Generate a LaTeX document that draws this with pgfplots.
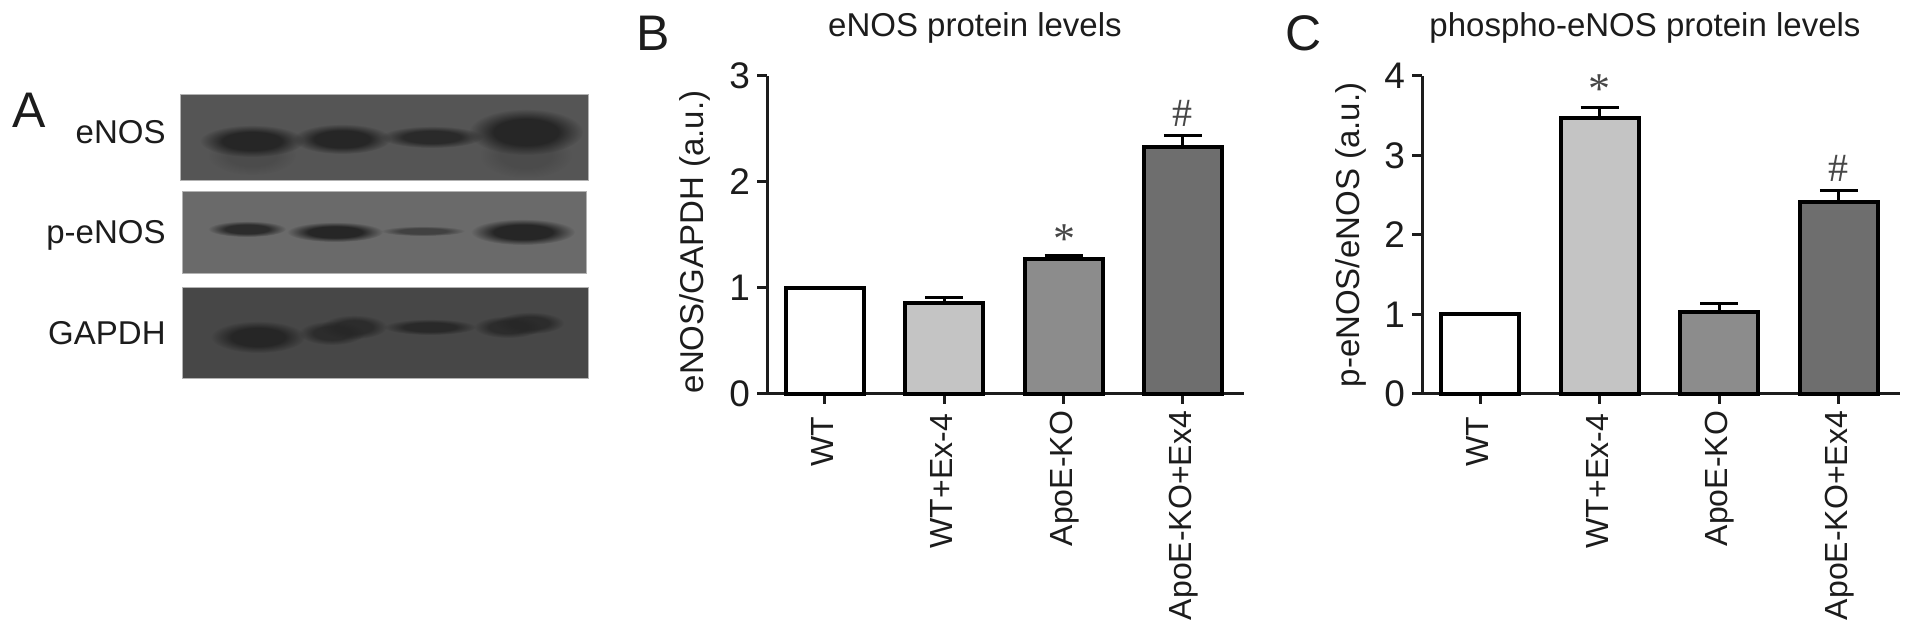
\documentclass[border=0pt]{standalone}
\usepackage{pgfplots}
\pgfplotsset{compat=1.18}
\usepackage{fontspec}
\usetikzlibrary{fadings}
\setmainfont{Liberation Sans}
\newfontfamily\serifn{Liberation Serif}
\definecolor{txt}{HTML}{1C1C1C}
\definecolor{barA}{HTML}{C4C4C4}
\definecolor{barB}{HTML}{8C8C8C}
\definecolor{barC}{HTML}{6E6E6E}
\definecolor{panA}{HTML}{555555}
\definecolor{panB}{HTML}{6A6A6A}
\definecolor{panC}{HTML}{474747}
\definecolor{bandk}{HTML}{262626}
\pgfdeclareradialshading{softsh}{\pgfpoint{0bp}{0bp}}{color(0bp)=(white); color(14bp)=(white); color(25bp)=(black); color(50bp)=(black)}
\pgfdeclarefading{softband}{\pgfuseshading{softsh}}
\newcommand{\band}[5][1]{\fill[bandk,opacity=#1,path fading=softband,fit fading=true] (axis cs:#2,#3) ellipse [x radius=#4*0.5pt, y radius=#5*0.5pt];}
\tikzset{ann/.style={inner sep=0pt,text=black!72}}
\pgfplotsset{
 barplot/.style={ybar,bar width=39pt,bar shift=0pt,draw=black,line width=2pt,
    error bars/y dir=plus, error bars/y explicit,
    error bars/error bar style={line width=1.5pt,black},
    error bars/error mark options={rotate=90,mark size=9.5pt,line width=1.5pt,black}},
 chart/.style={
  scale only axis, width=238.5pt, height=159pt, clip=false,
  axis x line=bottom, axis y line=left,
  axis line style={line width=1.5pt,-,txt},
  tick style={line width=1.5pt,txt},
  tick align=outside, major tick length=5pt,
  /pgf/number format/assume math mode=true,
  xtick={0,1,2,3},
  xticklabels={WT\kern3pt,WT+Ex-4\kern1.5pt,ApoE-KO,ApoE-KO+Ex4},
  xticklabel style={rotate=90,anchor=east,font=\fontsize{16}{16}\selectfont,text=txt,text height=11.5pt,text depth=0pt,yshift=1.5pt},
  yticklabel style={font=\fontsize{18.5}{18.5}\selectfont,text=txt},
  ylabel style={font=\fontsize{16.5}{16.5}\selectfont,text=txt,anchor=center},
  title style={font=\fontsize{16.5}{16.5}\selectfont,text=txt,anchor=center,yshift=-6pt},
  xmin=-0.486, xmax=3.512, ymin=0,
 },
}
\begin{document}
\begin{tikzpicture}
\useasboundingbox (0,0) rectangle (956.5pt,315pt);
% Panel A on pixel coordinates
\begin{axis}[at={(0,0)},anchor=south west,scale only axis,width=956.5pt,height=315pt,
  xmin=0,xmax=1913,ymin=0,ymax=630,y dir=reverse,hide axis,clip=false]
\addplot[fill=panA,draw=black!30,line width=0.4pt] coordinates {(180,94)(588,94)(588,180)(180,180)} -- cycle;
\addplot[fill=panB,draw=black!30,line width=0.4pt] coordinates {(182,191)(586,191)(586,273)(182,273)} -- cycle;
\addplot[fill=panC,draw=black!30,line width=0.4pt] coordinates {(182,287)(588,287)(588,378)(182,378)} -- cycle;
\band[0.2]{252}{155}{44}{20}
\band[0.2]{526}{155}{46}{23}
\band{252}{141}{52}{16}
\band{342}{139}{49}{15}
\band[0.9]{432}{137}{51}{11}
\band{526}{132}{57}{23}
\band[0.9]{247}{229}{39}{8}
\band{335}{232}{48}{10}
\band[0.6]{423}{231}{42}{5}
\band{523}{232}{52}{13}
\band{258}{337}{47}{16}
\band[0.8]{332}{333}{33}{12}
\band[0.8]{354}{327}{33}{12}
\band[0.9]{430}{327}{46}{8}
\band[0.8]{508}{327}{34}{11}
\band[0.8]{530}{323}{34}{11}
\node[anchor=east,inner sep=0pt,text=txt,font=\fontsize{16.5}{16.5}\selectfont] at (axis cs:166,132) {eNOS};
\node[anchor=east,inner sep=0pt,text=txt,font=\fontsize{16.5}{16.5}\selectfont] at (axis cs:166,235) {p-eNOS};
\node[anchor=east,inner sep=0pt,text=txt,font=\fontsize{16.5}{16.5}\selectfont] at (axis cs:166,333) {GAPDH};
\node[text=txt,inner sep=0pt,font=\fontsize{25}{25}\selectfont] at (axis cs:29,110) {A};
\node[text=txt,inner sep=0pt,font=\fontsize{25}{25}\selectfont] at (axis cs:653,33) {B};
\node[text=txt,inner sep=0pt,font=\fontsize{25}{25}\selectfont] at (axis cs:1304,33) {C};
\end{axis}
% Panel B
\begin{axis}[chart,at={(383.5pt,118pt)},anchor=south west,ymax=3,ytick={0,1,2,3},
  ylabel={eNOS/GAPDH (a.u.)},
  ylabel style={at={(axis description cs:-0.152,0.478)}},
  title={eNOS protein levels},
  title style={at={(axis description cs:0.436,1.151)}}]
\addplot[barplot,fill=white] coordinates {(0,1)};
\addplot[barplot,fill=barA] coordinates {(1,0.86) +- (0,0.05)};
\addplot[barplot,fill=barB] coordinates {(2,1.27) +- (0,0.04)};
\addplot[barplot,fill=barC] coordinates {(3,2.33) +- (0,0.11)};
\node[ann,font=\serifn\fontsize{22}{22}\selectfont] at (axis cs:2.01,1.46) {*};
\node[ann,font=\serifn\fontsize{20}{20}\selectfont] at (axis cs:3,2.65) {\#};
\end{axis}
% Panel C
\begin{axis}[chart,at={(711pt,118pt)},anchor=south west,ymax=4,ytick={0,1,2,3,4},
  width=239pt,
  ylabel={p-eNOS/eNOS (a.u.)},
  ylabel style={at={(axis description cs:-0.149,0.5)}},
  title={phospho-eNOS protein levels},
  title style={at={(axis description cs:0.4665,1.151)}}]
\addplot[barplot,fill=white] coordinates {(0,1)};
\addplot[barplot,fill=barA] coordinates {(1,3.47) +- (0,0.14)};
\addplot[barplot,fill=barB] coordinates {(2,1.03) +- (0,0.11)};
\addplot[barplot,fill=barC] coordinates {(3,2.42) +- (0,0.14)};
\node[ann,font=\serifn\fontsize{22}{22}\selectfont] at (axis cs:1,3.83) {*};
\node[ann,font=\serifn\fontsize{20}{20}\selectfont] at (axis cs:3,2.84) {\#};
\end{axis}
\end{tikzpicture}
\end{document}
